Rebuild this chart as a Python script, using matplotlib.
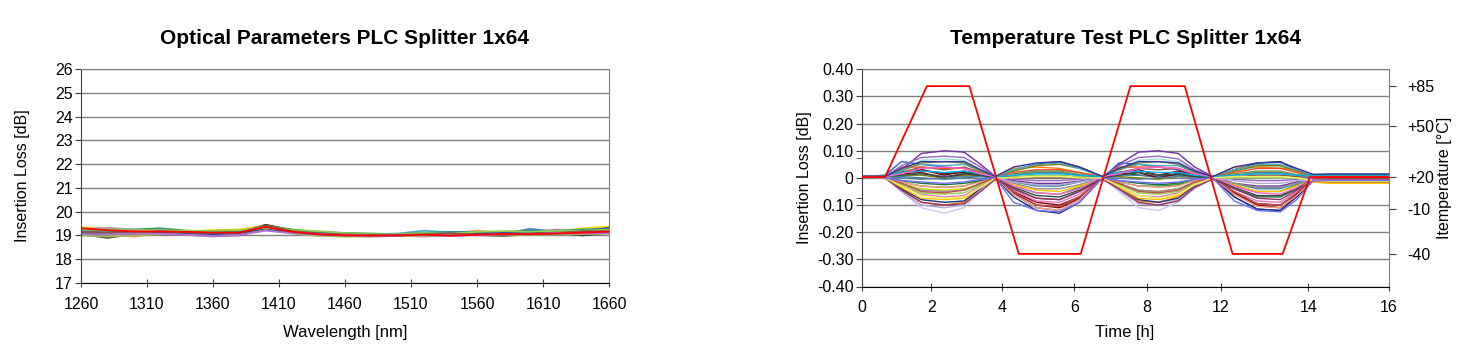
import numpy as np
import matplotlib
matplotlib.use('Agg')
import matplotlib.pyplot as plt

plt.rcParams['font.family'] = ['Liberation Sans', 'DejaVu Sans']
plt.rcParams['font.size'] = 11

# ---------------- left chart: IL vs wavelength (selection of the 64 ports)
wavelength = [1260, 1280, 1300, 1320, 1340, 1360, 1380, 1400, 1420, 1440, 1460,
              1480, 1500, 1520, 1540, 1560, 1580, 1600, 1620, 1640, 1660]

il_spectrum = [
    [19.05, 18.90, 19.05, 19.12, 19.12, 19.08, 19.15, 19.45, 19.22, 19.10, 19.05, 19.02, 19.00, 18.98, 19.05, 19.02, 18.98, 19.05, 19.12, 19.00, 19.12],
    [19.25, 19.28, 19.25, 19.30, 19.20, 19.18, 19.20, 19.40, 19.25, 19.15, 19.10, 19.08, 19.05, 19.12, 19.10, 19.12, 19.15, 19.18, 19.15, 19.20, 19.25],
    [19.15, 19.10, 19.05, 19.28, 19.10, 19.02, 19.08, 19.30, 19.12, 19.05, 19.00, 18.98, 19.02, 19.08, 19.05, 19.10, 19.05, 19.28, 19.15, 19.12, 19.35],
    [19.20, 19.05, 18.95, 19.10, 19.15, 19.20, 19.18, 19.38, 19.20, 19.10, 19.02, 19.00, 19.02, 19.00, 19.08, 19.20, 19.10, 19.08, 19.15, 19.22, 19.30],
    [19.10, 19.15, 19.10, 19.08, 19.05, 18.95, 19.05, 19.22, 19.12, 19.08, 19.02, 18.98, 19.00, 18.95, 19.02, 19.05, 19.08, 19.12, 19.25, 19.15, 19.20],
    [19.35, 19.30, 19.22, 19.15, 19.18, 19.22, 19.25, 19.40, 19.20, 19.12, 19.05, 19.00, 18.98, 19.05, 19.12, 19.15, 19.10, 19.15, 19.18, 19.30, 19.38],
    [19.20, 19.18, 19.12, 19.10, 19.08, 19.10, 19.12, 19.32, 19.18, 19.12, 19.08, 19.05, 19.08, 19.20, 19.12, 19.08, 19.12, 19.15, 19.15, 19.18, 19.22],
    [19.18, 19.08, 19.05, 19.05, 19.02, 18.98, 19.00, 19.28, 19.10, 19.02, 18.98, 18.96, 18.98, 19.02, 19.08, 19.00, 19.05, 19.10, 19.08, 19.10, 19.15],
    [19.28, 19.32, 19.25, 19.20, 19.15, 19.10, 19.15, 19.36, 19.18, 19.10, 19.05, 19.05, 19.05, 19.10, 19.12, 19.12, 19.15, 19.12, 19.18, 19.22, 19.28],
    [19.00, 18.95, 19.00, 19.05, 19.05, 19.02, 19.05, 19.25, 19.08, 18.98, 18.95, 18.96, 18.98, 18.98, 19.00, 19.02, 19.00, 19.02, 19.05, 19.05, 19.08],
    [19.22, 19.20, 19.15, 19.12, 19.15, 19.15, 19.18, 19.38, 19.20, 19.12, 19.08, 19.06, 19.06, 19.10, 19.15, 19.15, 19.12, 19.20, 19.20, 19.25, 19.28],
    [19.12, 19.10, 19.10, 19.15, 19.10, 19.05, 19.10, 19.30, 19.12, 19.05, 19.02, 19.00, 19.00, 19.05, 19.10, 19.08, 19.10, 19.12, 19.10, 19.15, 19.32],
    [19.25, 19.22, 19.20, 19.22, 19.18, 19.20, 19.22, 19.32, 19.22, 19.18, 19.10, 19.05, 19.05, 19.10, 19.08, 19.15, 19.18, 19.15, 19.20, 19.20, 19.25],
    [19.15, 19.12, 19.12, 19.18, 19.12, 19.10, 19.12, 19.42, 19.18, 19.08, 19.04, 19.02, 19.02, 19.05, 19.08, 19.05, 19.02, 19.08, 19.10, 19.18, 19.18],
    [19.05, 19.05, 19.08, 19.08, 19.02, 18.98, 19.02, 19.20, 19.10, 19.05, 19.00, 18.98, 19.00, 19.02, 18.98, 19.02, 19.05, 19.05, 19.10, 19.08, 19.10],
    [19.30, 19.22, 19.17, 19.16, 19.15, 19.12, 19.12, 19.36, 19.15, 19.05, 19.00, 18.99, 19.00, 19.03, 18.99, 19.03, 19.06, 19.05, 19.08, 19.12, 19.16],
]
spectrum_colors = ['#3a3a1a', '#2ca02c', '#4f81bd', '#f79646', '#e377c2', '#ffd700',
                   '#4bacc6', '#8064a2', '#a0a0a0', '#9bbb59', '#1f8f8f', '#1f3f9f',
                   '#92d050', '#8c564b', '#b070d0', '#ff0000']

# ---------------- right chart: IL change during temperature cycling
hours = [0, 0.7, 1.2, 1.8, 2.5, 3.1, 3.6, 4.05, 4.6, 5.3, 6.0, 6.6, 7.3,
         7.8, 8.4, 9.0, 9.6, 10.1, 10.65, 11.3, 12.0, 12.7, 13.2, 13.7, 14.2, 16]

il_delta = [
    [.005, .005, .03, .09, .10, .095, .05, .005, -.01, -.02, -.02, -.012, .0, .05, .095, .10, .09, .04, .005, -.02, -.03, -.03, -.015, .005, .01, .01],
    [.005, .0, -.05, -.11, -.13, -.11, -.05, .0, .012, .02, .02, .01, .0, -.05, -.11, -.12, -.09, -.04, .0, .0, .005, .0, .0, -.005, -.01, -.01],
    [.005, .008, .02, .03, .015, .02, .01, .005, .03, .05, .06, .04, .005, .02, .01, .005, .015, .01, .005, .03, .055, .06, .03, .01, .012, .012],
    [.005, .005, .03, .065, .07, .065, .03, .005, .02, .03, .03, .015, .005, .035, .065, .07, .06, .025, .005, .025, .04, .04, .02, .01, .015, .015],
    [.005, .0, -.04, -.09, -.10, -.09, -.04, .0, .035, .04, .035, .02, .0, -.04, -.085, -.09, -.07, -.03, .0, .04, .04, .035, .03, .01, .012, .012],
    [.005, .01, .06, .05, .04, .035, .015, .0, -.06, -.11, -.12, -.08, .0, .055, .05, .04, .03, .01, .0, -.07, -.115, -.12, -.06, -.005, -.005, -.005],
    [.005, .005, .02, .03, .01, .025, .015, .0, -.05, -.09, -.10, -.07, .0, .02, .03, .01, .025, .01, .0, -.06, -.10, -.11, -.07, .0, .008, .008],
    [.005, .0, -.015, -.03, -.035, -.03, -.01, .0, -.03, -.055, -.06, -.035, .0, -.015, -.03, -.03, -.025, -.01, .0, -.03, -.05, -.05, -.025, .0, .0, .0],
    [.005, .0, -.02, -.04, -.045, -.04, -.025, -.01, .01, .02, .02, .01, .0, -.025, -.045, -.05, -.04, -.02, -.005, .01, .015, .015, .005, -.015, -.02, -.02],
    [.005, .005, .005, .0, -.005, .0, .005, .0, -.015, -.03, -.03, -.015, .0, .01, .01, .005, .01, .005, .0, -.02, -.04, -.04, -.02, .005, .005, .005],
    [.005, .0, -.03, -.06, -.07, -.065, -.03, .0, -.045, -.085, -.09, -.06, .0, -.03, -.065, -.07, -.055, -.02, .0, -.05, -.085, -.09, -.05, -.005, -.008, -.008],
    [.005, .005, .02, .04, .03, .04, .02, .005, .0, .0, .0, .0, .005, .02, .035, .03, .035, .015, .005, .005, .01, .01, .005, .005, .005, .005],
    [.005, .0, -.04, -.08, -.09, -.085, -.04, .0, -.07, -.12, -.13, -.09, .0, -.035, -.08, -.09, -.075, -.03, .0, -.07, -.115, -.12, -.07, -.01, -.012, -.012],
    [.005, .005, .01, .01, .0, .01, .01, .005, .025, .045, .05, .035, .005, .005, .0, -.005, .005, .005, .005, .025, .045, .045, .025, .01, .01, .01],
    [.005, .005, .03, .05, .045, .05, .025, .005, .03, .05, .055, .035, .005, .03, .05, .045, .045, .02, .005, .03, .05, .05, .03, .012, .014, .014],
    [.005, .0, -.02, -.045, -.05, -.045, -.02, .0, -.02, -.04, -.04, -.025, .0, -.02, -.045, -.05, -.04, -.015, .0, -.02, -.035, -.035, -.02, -.002, -.004, -.004],
    [.005, .005, .04, .04, .035, .035, .02, .005, .02, .03, .03, .02, .005, .04, .04, .04, .035, .015, .005, .02, .035, .035, .02, .006, .006, .006],
    [.005, .0, -.01, -.02, -.025, -.02, -.01, .0, -.04, -.075, -.08, -.05, .0, -.01, -.02, -.025, -.02, -.005, .0, -.04, -.07, -.07, -.04, -.002, -.003, -.003],
    [.005, .005, .045, .075, .08, .075, .04, .005, -.005, -.01, -.01, -.005, .005, .045, .075, .08, .07, .03, .005, -.005, -.01, -.01, -.005, .008, .009, .009],
    [.005, .0, -.025, -.055, -.06, -.055, -.025, -.005, .005, .01, .01, .005, .0, -.025, -.055, -.06, -.05, -.02, -.005, .0, .0, .0, .0, -.012, -.015, -.015],
    [.005, .005, .015, .02, .0, .015, .01, .0, -.055, -.10, -.11, -.075, .0, .015, .02, .0, .015, .005, .0, -.055, -.095, -.10, -.06, .0, .0, .0],
    [.005, .0, -.035, -.075, -.08, -.075, -.035, -.005, -.025, -.045, -.05, -.03, -.005, -.035, -.075, -.08, -.065, -.025, -.005, -.025, -.05, -.05, -.03, -.015, -.018, -.018],
    [.005, .005, .0, -.005, .0, .005, .005, .0, .01, .02, .02, .01, .0, .0, -.005, .0, .005, .0, .0, .01, .02, .02, .01, .002, .002, .002],
    [.005, .0, -.015, -.03, -.035, -.03, -.015, .0, -.06, -.11, -.12, -.08, .0, -.015, -.03, -.035, -.03, -.01, .0, -.06, -.105, -.11, -.065, -.005, -.006, -.006],
    [.005, .005, .01, .015, .005, .015, .01, .0, -.035, -.065, -.07, -.045, .0, .01, .02, .01, .015, .005, .0, -.035, -.065, -.065, -.04, .003, .004, .004],
    [.005, .0, -.05, -.10, -.11, -.10, -.045, .0, -.015, -.025, -.025, -.015, .0, -.045, -.095, -.10, -.08, -.035, .0, -.01, -.02, -.02, -.01, -.008, -.01, -.01],
    [.005, .005, .025, .055, .06, .055, .025, .005, .015, .025, .025, .012, .005, .03, .055, .06, .05, .02, .005, .015, .025, .025, .012, .007, .008, .008],
    [.005, .0, -.02, -.05, -.055, -.045, -.02, .0, -.05, -.10, -.105, -.07, .0, -.02, -.05, -.055, -.045, -.015, .0, -.05, -.095, -.10, -.055, -.004, -.005, -.005],
    [.005, .005, .02, .025, .02, .025, .015, .005, .01, .015, .015, .01, .005, .02, .025, .02, .02, .01, .005, .01, .015, .015, .01, .011, .011, .011],
    [.005, .0, -.045, -.09, -.10, -.095, -.05, -.005, -.04, -.075, -.08, -.05, -.005, -.04, -.09, -.10, -.085, -.035, -.005, -.04, -.075, -.08, -.045, -.012, -.014, -.014],
    [.005, .005, .015, .035, .04, .035, .015, .005, -.03, -.055, -.06, -.04, .005, .015, .035, .04, .035, .015, .005, -.03, -.055, -.06, -.035, .002, .003, .003],
    [.005, .0, -.03, -.065, -.075, -.07, -.035, .0, .0, .005, .005, .0, .0, -.03, -.065, -.075, -.06, -.025, .0, .005, .005, .005, .0, -.01, -.012, -.012],
    [.005, .005, .035, .06, .06, .06, .03, .005, .04, .055, .06, .04, .005, .035, .06, .06, .055, .025, .005, .04, .055, .058, .035, .013, .014, .014],
    [.005, .0, -.01, -.015, -.02, -.015, -.005, .0, -.09, -.12, -.125, -.09, .0, -.01, -.015, -.02, -.015, -.005, .0, -.085, -.12, -.125, -.08, -.008, -.009, -.009],
]
delta_colors = ['#7030a0', '#c8c8f0', '#202020', '#9fdfdf', '#ff7f0e', '#2f5fbf',
                '#8b0000', '#2ca02c', '#e6d800', '#31859c', '#e377c2', '#8c564b',
                '#1f2f7f', '#808000', '#4bacc6', '#909090', '#f05030', '#1f6f3f',
                '#9467bd', '#92d050', '#800000', '#ffc000', '#5a7fa0', '#ff9980',
                '#2f4f4f', '#b4a7d6', '#76923c', '#c0504d', '#00b0f0', '#993366',
                '#ff66cc', '#f0f060', '#333399', '#6f6fff']

temp_hours = [0, 0.7, 1.97, 3.26, 4.76, 6.64, 8.15, 9.80, 11.25, 12.77, 13.6, 16]
temp_degc = [20, 20, 85, 85, -40, -40, 85, 85, -40, -40, 20, 20]
temp_ticks = [85, 50, 20, -10, -40]

fig = plt.figure(figsize=(14.72, 3.63), dpi=100)

GRID = '#808080'


def style_box(ax):
    ax.grid(True, axis='y', color=GRID, linewidth=1.0)
    ax.set_axisbelow(True)
    ax.spines['top'].set_color(GRID)
    ax.spines['right'].set_color(GRID)
    ax.spines['left'].set_color('#404040')
    ax.spines['bottom'].set_color('black')
    ax.tick_params(axis='y', direction='out', length=4, color='#404040', labelsize=11.5, pad=2)
    ax.tick_params(axis='x', direction='inout', length=6, color='#404040', labelsize=11.5, pad=7)


# left chart
ax1 = fig.add_axes([81 / 1472, 1 - 283 / 363, 528 / 1472, 214 / 363])
for row, c in zip(il_spectrum, spectrum_colors):
    ax1.plot(wavelength, row, color=c, linewidth=1.3)
ax1.set_xlim(1260, 1660)
ax1.set_ylim(17, 26)
ax1.set_xticks(range(1260, 1661, 50))
ax1.set_yticks(range(17, 27))
style_box(ax1)
fig.text(345 / 1472, 1 - 38 / 363, 'Optical Parameters PLC Splitter 1x64',
         ha='center', va='center', fontsize=15, fontweight='bold')
fig.text(345 / 1472, 1 - 333 / 363, 'Wavelength [nm]', ha='center', va='center', fontsize=12)
fig.text(23 / 1472, 1 - 176 / 363, 'Insertion Loss [dB]', ha='center', va='center',
         rotation=90, fontsize=11.5)

# right chart
ax2 = fig.add_axes([862 / 1472, 1 - 286.5 / 363, 527 / 1472, 217.2 / 363])
for row, c in zip(il_delta, delta_colors):
    ax2.plot(hours, row, color=c, linewidth=1.0)
ax2.set_xlim(0, 16)
ax2.set_ylim(-0.4, 0.4)
ax2.set_xticks([0, 2.1, 4.25, 6.45, 8.65, 10.9, 13.55, 16])
ax2.set_xticklabels(['0', '2', '4', '6', '8', '12', '14', '16'])
yt = [-0.4, -0.3, -0.2, -0.1, 0, 0.1, 0.2, 0.3, 0.4]
ax2.set_yticks(yt)
ax2.set_yticklabels(['-0.40', '-0.30', '-0.20', '0.10', '0', '0.10', '0.20', '0.30', '0.40'])
ax2.set_yticks([-0.074, 0.074], minor=True)
style_box(ax2)
ax2.tick_params(axis='y', which='minor', direction='out', length=4, color='#404040')
for i in (3, 5):
    ax2.yaxis.get_major_ticks()[i].tick1line.set_visible(False)

# temperature profile on a secondary axis (scale follows the printed tick positions)
temp_pts = np.array([-90.0, -40, -10, 20, 50, 85, 130])
pos_pts = np.array([-0.56, -0.28, -0.115, 0.003, 0.19, 0.338, 0.52])


def t_fwd(v):
    return np.interp(v, temp_pts, pos_pts)


def t_inv(v):
    return np.interp(v, pos_pts, temp_pts)


ax3 = ax2.twinx()
ax3.set_yscale('function', functions=(t_fwd, t_inv))
ax3.set_ylim(float(t_inv(-0.4)), float(t_inv(0.4)))
ax3.plot(temp_hours, temp_degc, color='#ff0000', linewidth=1.3)
ax3.set_yticks(temp_ticks)
ax3.set_yticklabels(['+85', '+50', '+20', '-10', '-40'])
ax3.yaxis.set_minor_locator(matplotlib.ticker.NullLocator())
ax3.tick_params(axis='y', direction='out', length=5, color='#404040', labelsize=11.5, pad=8)
for s in ax3.spines.values():
    s.set_visible(False)

fig.text(1125 / 1472, 1 - 38 / 363, 'Temperature Test PLC Splitter 1x64',
         ha='center', va='center', fontsize=15, fontweight='bold')
fig.text(1125 / 1472, 1 - 333 / 363, 'Time [h]', ha='center', va='center', fontsize=12)
fig.text(805 / 1472, 1 - 178 / 363, 'Insertion Loss [dB]', ha='center', va='center',
         rotation=90, fontsize=11.5)
fig.text(1444 / 1472, 1 - 178 / 363, 'Itemperature [°C]', ha='center', va='center',
         rotation=90, fontsize=11.5)

fig.savefig('out.png', dpi=100)
